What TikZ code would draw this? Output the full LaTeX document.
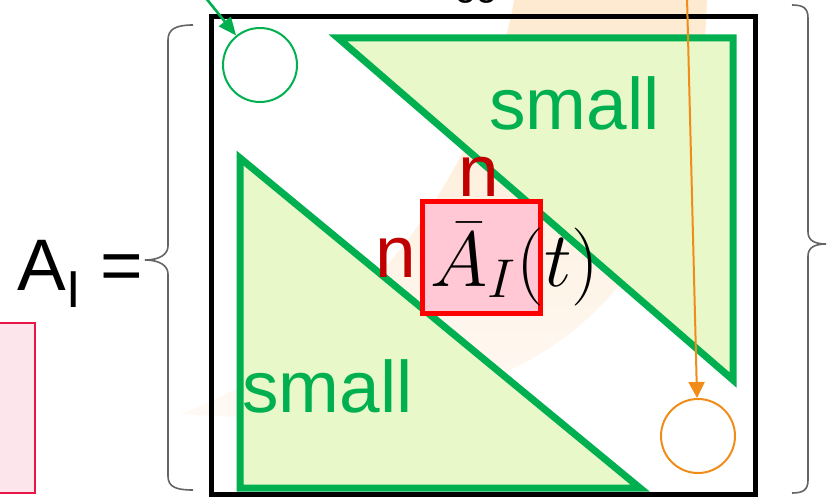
\RequirePackage{fix-cm}
\documentclass[tikz,border=0pt]{standalone}
\usepackage{fontspec}
\setmainfont{Liberation Sans}
\usepackage{tikz}
\usetikzlibrary{arrows.meta,positioning,calc}
\usepackage{xcolor}
\definecolor{boxgreen}{RGB}{0,176,80}
\definecolor{palegreen}{RGB}{232,248,200}
\definecolor{darkred}{RGB}{192,0,0}
\definecolor{blockpink}{RGB}{255,200,212}
\definecolor{peach}{RGB}{253,234,208}
\definecolor{peachfaint}{RGB}{255,250,246}
\definecolor{arroworange}{RGB}{242,140,24}
\definecolor{crimson}{RGB}{232,23,74}
\definecolor{sidepink}{RGB}{253,230,235}
\definecolor{bracegray}{RGB}{100,100,100}

\begin{document}
\begin{tikzpicture}[x=0.5pt,y=-0.5pt,
    tri/.style={draw=boxgreen, fill=palegreen, line width=3.5pt, line join=miter},
    bigtxt/.style={inner sep=0pt, anchor=base west, font=\fontsize{36.5}{40}\selectfont},
    spot/.style={circle, minimum size=37pt, inner sep=0pt, line width=1pt},
    brace/.style={draw=bracegray, line width=0.8pt}]
        \useasboundingbox (0,0) rectangle (829,497);
        \clip (0,0) rectangle (829,497);

        % Faint background arc
        \shade[top color=peach, bottom color=peachfaint]
            (707,-5) .. controls (700,300) and (540,440) .. (180,414)
            .. controls (330,360) and (480,200) .. (515,-5) -- cycle;

        % Cut-off text at the top
        \node[inner sep=0pt, anchor=base west, font=\fontsize{19}{22}\selectfont] (cuttext) at (455,-4) {gg\hspace{9pt},};

        % Matrix frame
        \draw[line width=2.5pt] (211,17) rectangle (755,494);

        % Small blocks
        \draw[tri] (338,38) -- (733,38) -- (733,380) -- cycle;
        \draw[tri] (240,158) -- (640,488) -- (240,488) -- cycle;
        \node[bigtxt, text=boxgreen] (smallup) at (489,130) {small};
        \node[bigtxt, text=boxgreen] (smalldown) at (242,412) {small};

        % Diagonal block
        \draw[red, fill=blockpink, line width=2.5pt] (422,202) rectangle (540,313);
        \node[inner sep=0pt, anchor=base west, font=\fontsize{39}{42}\selectfont] (abar) at (430,286) {$\bar{A}_I(t)$};
        \node[bigtxt, text=darkred] (nrow) at (458,197) {n};
        \node[bigtxt, text=darkred] (ncol) at (375,278) {n};

        % Left hand side
        \node[bigtxt] (lhs) at (17,290) {A\raisebox{-8.5pt}{\fontsize{26}{28}\selectfont I} =};

        % Corner circles and arrows
        \node[spot, draw=boxgreen] (topspot) at (260,65) {};
        \node[spot, draw=arroworange] (botspot) at (698,436) {};
        \coordinate (gstart) at (205,-3);
        \coordinate (ostart) at (687,-3);
        \draw[-{Triangle[length=9pt,width=7.5pt]}, boxgreen, line width=1.3pt] (gstart) -- (topspot);
        \draw[-{Triangle[length=8pt,width=8pt]}, arroworange, line width=1pt] (ostart) -- (botspot);

        % Braces
        \draw[brace] (193,25) .. controls (176,25) and (168,29) .. (168,40) -- (168,246)
            .. controls (168,254) and (160,260) .. (145,260)
            .. controls (160,260) and (168,266) .. (168,274) -- (168,476)
            .. controls (168,487) and (176,490) .. (193,490);
        \draw[brace] (792,5) .. controls (803,5) and (808,8) .. (808,18) -- (808,232)
            .. controls (808,240) and (814,244) .. (826,244)
            .. controls (814,244) and (808,248) .. (808,256) -- (808,480)
            .. controls (808,490) and (803,493) .. (792,493);

        % Side block
        \draw[crimson, fill=sidepink, line width=1pt] (-10,323) rectangle (35,493);
    \end{tikzpicture}
\end{document}
